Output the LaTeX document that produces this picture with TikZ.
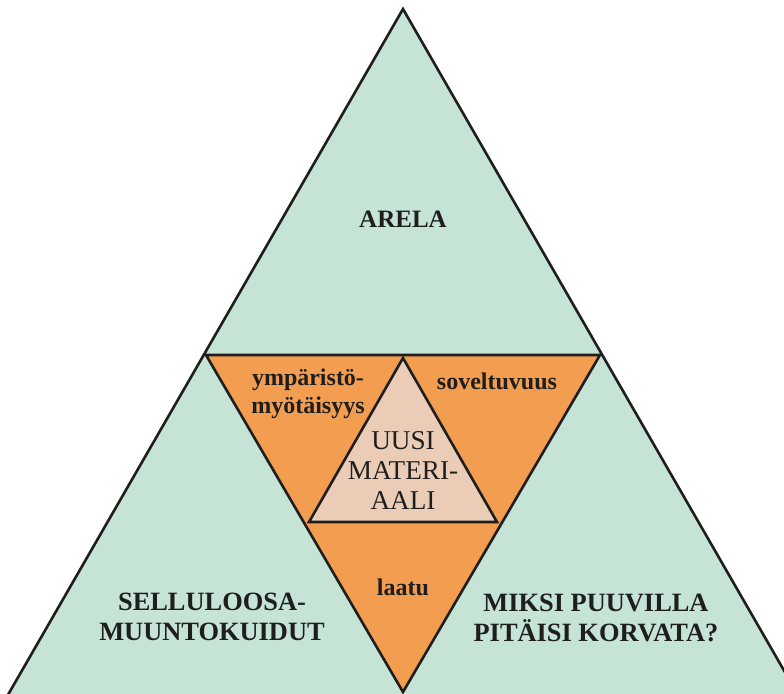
\documentclass[tikz,border=0pt]{standalone}
\usepackage{fontspec}
\setmainfont{Liberation Serif}
\usepackage{tikz}
\usetikzlibrary{positioning, calc}

\definecolor{mint}{RGB}{198,228,214}
\definecolor{carrot}{RGB}{243,157,80}
\definecolor{peach}{RGB}{235,205,183}
\definecolor{ink}{RGB}{30,30,30}

\begin{document}
\begin{tikzpicture}[x=0.5pt, y=-0.5pt,
        edge/.style={draw=ink, line width=1.3pt, line join=miter},
        big/.style={font=\bfseries\fontsize{13.2}{15}\selectfont, text=ink, align=center},
        small/.style={font=\bfseries\fontsize{12}{14}\selectfont, text=ink, align=center},
        core/.style={font=\fontsize{13.6}{15}\selectfont, text=ink, align=center}]
        \useasboundingbox (0,0) rectangle (784,693);

        % corners of the triangles
        \coordinate (top) at (403,9);
        \coordinate (bl) at (5,700);
        \coordinate (br) at (801,700);
        \coordinate (ml) at (206,355);
        \coordinate (mr) at (600,355);
        \coordinate (mb) at (403,692);
        \coordinate (it) at (403,358);
        \coordinate (il) at (309,522);
        \coordinate (ir) at (497,522);

        \begin{scope}
            \clip (0,0) rectangle (784,693);
            \fill[mint] (top) -- (bl) -- (br) -- cycle;
            \draw[edge] (bl) -- (top) -- (br);
            \filldraw[edge, fill=carrot] (ml) -- (mr) -- (mb) -- cycle;
            \filldraw[edge, fill=peach] (it) -- (il) -- (ir) -- cycle;
        \end{scope}

        \node[big, font=\bfseries\fontsize{12.5}{15}\selectfont] (arela) at (403,219) {ARELA};
        \node[big] (sellu) at (212,617) {SELLULOOSA-\\MUUNTOKUIDUT};
        \node[big] (miksi) at (596,618) {MIKSI PUUVILLA\\PITÄISI KORVATA?};

        \node[small] (ymp) at (308,394) {ympäristö-\\myötäisyys};
        \node[small] (sov) at (497,381) {soveltuvuus};
        \node[small] (laatu) at (403,587) {laatu};

        \node[core] (uusi) at (403,470) {UUSI\\MATERI-\\AALI};
    \end{tikzpicture}
\end{document}
